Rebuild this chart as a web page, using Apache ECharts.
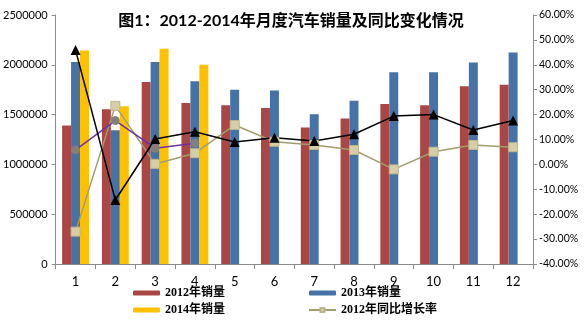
<!DOCTYPE html>
<html>
<head>
<meta charset="utf-8">
<script src="https://cdn.jsdelivr.net/npm/echarts@6/dist/echarts.min.js"></script>
<style>
html,body{margin:0;padding:0;background:#fff;}
#c{width:584px;height:329px;}
</style>
</head>
<body>
<div id="c"></div>
<script>
var months = ['1','2','3','4','5','6','7','8','9','10','11','12'];
var sales2012 = [1390000,1553000,1827000,1616000,1593000,1566000,1370000,1460000,1606000,1593000,1784000,1800000];
var sales2013 = [2027000,1343000,2027000,1834000,1750000,1743000,1503000,1640000,1924000,1924000,2024000,2124000];
var sales2014 = [2144000,1583000,2161000,2001000,null,null,null,null,null,null,null,null];
var yoy2012 = [-27.0,23.5,0.2,4.5,15.8,9.1,7.8,5.8,-2.0,5.1,7.8,6.9];
var yoy2013 = [45.9,-14.3,10.2,13.1,9.0,10.7,9.4,12.1,19.4,20.0,13.8,17.6];
var yoy2014 = [5.8,17.6,6.5,8.5,null,null,null,null,null,null,null,null];
var leftTicks = [0,2500000,500000];
var rightTicks = [-40,60,10];

var numFont = 'Lato, "Noto Sans CJK SC", sans-serif';
var legFont = '"Liberation Serif", "Noto Sans CJK SC", serif';

var chart = echarts.init(document.getElementById('c'), null, {renderer:'canvas'});
var legendText = {fontSize:12, fontWeight:'bold', color:'#000', fontFamily:legFont};
chart.setOption({
  animation:false,
  backgroundColor:'#fff',
  title:{
    text:'图1：2012-2014年月度汽车销量及同比变化情况',
    left:286, top:8, textAlign:'center',
    textStyle:{fontSize:16, fontWeight:'bold', color:'#000', fontFamily:numFont}
  },
  legend:[{
    orient:'vertical', left:133, top:287, height:42, padding:0, itemWidth:27, itemHeight:5, itemGap:5,
    textStyle:legendText,
    data:['2012年销量','2014年销量']
  },{
    orient:'vertical', left:308, top:287, height:42, padding:0, itemWidth:27, itemHeight:5, itemGap:5,
    textStyle:legendText,
    data:['2013年销量','2012年同比增长率']
  }],
  grid:{left:53, right:51, top:15, bottom:65, containLabel:false},
  xAxis:{
    type:'category', data:months, boundaryGap:true,
    axisLine:{lineStyle:{color:'#8c8c8c'}},
    axisTick:{show:true, alignWithLabel:false, length:5, lineStyle:{color:'#8c8c8c'}},
    axisLabel:{fontSize:13, color:'#000', margin:11, fontFamily:numFont}
  },
  yAxis:[{
    type:'value', min:leftTicks[0], max:leftTicks[1], interval:leftTicks[2],
    splitLine:{show:false},
    axisLine:{show:true, lineStyle:{color:'#8c8c8c'}},
    axisTick:{show:true, length:4, lineStyle:{color:'#8c8c8c'}},
    axisLabel:{fontSize:11, color:'#000', margin:8, fontFamily:numFont,
      formatter:function(v){return String(v);}}
  },{
    type:'value', position:'right', min:rightTicks[0], max:rightTicks[1], interval:rightTicks[2],
    splitLine:{show:false},
    axisLine:{show:true, lineStyle:{color:'#8c8c8c'}},
    axisTick:{show:true, length:4, lineStyle:{color:'#8c8c8c'}},
    axisLabel:{fontSize:10.5, color:'#000', margin:6, fontFamily:numFont,
      formatter:function(v){return v.toFixed(2)+'%';}}
  }],
  series:[
    {name:'2012年销量', type:'bar', data:sales2012, barGap:'0%', barCategoryGap:'32.5%',
     itemStyle:{color:'#AA4643'}},
    {name:'2013年销量', type:'bar', data:sales2013, barGap:'0%', barCategoryGap:'32.5%',
     itemStyle:{color:'#4572A7'}},
    {name:'2014年销量', type:'bar', data:sales2014, barGap:'0%', barCategoryGap:'32.5%',
     itemStyle:{color:'#FFC000'}},
    {name:'2012年同比增长率', type:'line', yAxisIndex:1, data:yoy2012,
     symbol:'rect', symbolSize:9, showAllSymbol:true,
     lineStyle:{color:'#A39C6E', width:1.5},
     itemStyle:{color:'#D6CEA6', borderColor:'#BDB58E', borderWidth:1}},
    {name:'2014年同比增长率', type:'line', yAxisIndex:1, data:yoy2014,
     symbol:'circle', symbolSize:8,
     lineStyle:{color:'#7030A0', width:1.5},
     itemStyle:{color:'#808080', borderColor:'#808080'}},
    {name:'2013年同比增长率', type:'line', yAxisIndex:1, data:yoy2013,
     symbol:'triangle', symbolSize:10,
     lineStyle:{color:'#000', width:1.5},
     itemStyle:{color:'#000'}}
  ]
});
</script>
</body>
</html>
